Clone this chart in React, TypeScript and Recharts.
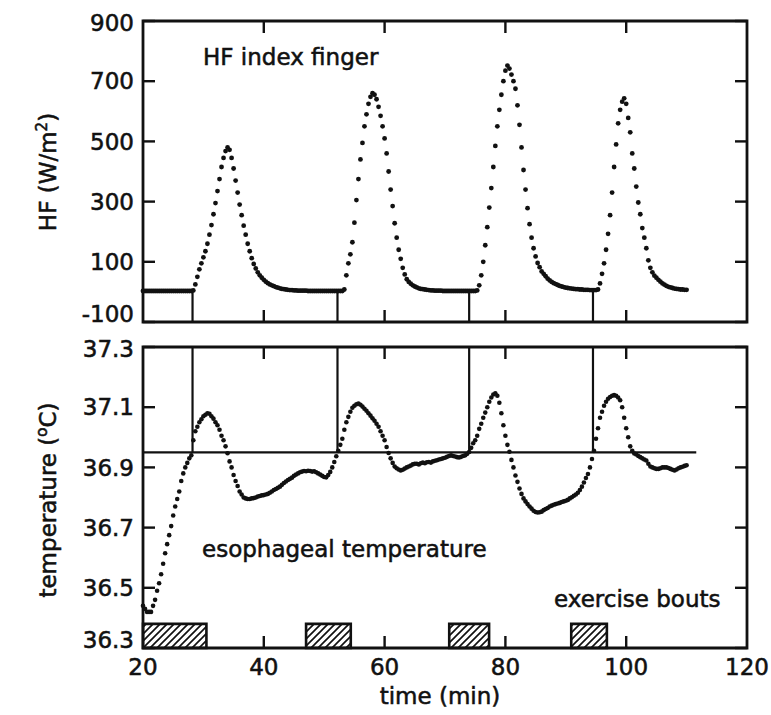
import React from 'react';
import { ComposedChart, Line, XAxis, YAxis, ReferenceLine, ReferenceArea } from 'recharts';

// Sampling grid of the recording (minutes)
const SAMPLE_START_MIN = 20;
const SAMPLE_STEP_MIN = 1 / 3;

// Heat flux, index finger (W/m2), one row per minute (3 samples per minute)
const hfIndexFinger = [
  3, 3, 3, // 20
  3, 3, 3, // 21
  3, 3, 3, // 22
  3, 3, 3, // 23
  3, 3, 3, // 24
  3, 3, 3, // 25
  3, 3, 3, // 26
  3, 3, 3, // 27
  3, 5, 25, // 28
  50, 75, 95, // 29
  115, 135, 160, // 30
  190, 222, 258, // 31
  295, 335, 375, // 32
  415, 445, 468, // 33
  480, 472, 445, // 34
  410, 370, 330, // 35
  290, 255, 220, // 36
  190, 160, 135, // 37
  112, 93, 78, // 38
  65, 55, 47, // 39
  40, 34, 29, // 40
  25, 22, 19, // 41
  16, 14, 12, // 42
  10, 9, 8, // 43
  7, 6, 6, // 44
  5, 5, 4, // 45
  4, 4, 4, // 46
  4, 3, 3, // 47
  3, 3, 3, // 48
  3, 3, 3, // 49
  3, 3, 3, // 50
  3, 3, 3, // 51
  3, 3, 3, // 52
  3, 8, 55, // 53
  95, 125, 165, // 54
  230, 305, 375, // 55
  440, 495, 550, // 56
  590, 625, 648, // 57
  660, 655, 640, // 58
  615, 585, 550, // 59
  510, 460, 400, // 60
  340, 285, 228, // 61
  180, 140, 110, // 62
  80, 58, 42, // 63
  33, 27, 22, // 64
  18, 15, 12, // 65
  10, 9, 8, // 66
  7, 6, 5, // 67
  5, 4, 4, // 68
  4, 4, 3, // 69
  3, 3, 3, // 70
  3, 3, 3, // 71
  3, 3, 3, // 72
  3, 3, 3, // 73
  3, 3, 3, // 74
  3, 5, 22, // 75
  55, 100, 155, // 76
  215, 280, 345, // 77
  415, 485, 550, // 78
  605, 655, 700, // 79
  735, 752, 742, // 80
  722, 700, 675, // 81
  620, 555, 480, // 82
  405, 340, 278, // 83
  225, 180, 145, // 84
  118, 96, 82, // 85
  68, 60, 52, // 86
  44, 38, 33, // 87
  29, 26, 23, // 88
  20, 18, 16, // 89
  14, 13, 12, // 90
  11, 10, 9, // 91
  9, 8, 8, // 92
  7, 7, 7, // 93
  6, 6, 6, // 94
  6, 8, 28, // 95
  60, 95, 140, // 96
  193, 255, 330, // 97
  415, 490, 560, // 98
  605, 632, 643, // 99
  625, 578, 530, // 100
  460, 410, 350, // 101
  297, 258, 212, // 102
  180, 145, 105, // 103
  80, 65, 54, // 104
  47, 40, 34, // 105
  28, 24, 20, // 106
  17, 15, 13, // 107
  11, 10, 9, // 108
  8, 8, 7, // 109
  7, // 110
];

// Esophageal temperature (deg C), same sampling grid
const esophagealTemp = [
  36.44, 36.43, 36.42, // 20
  36.42, 36.42, 36.44, // 21
  36.46, 36.49, 36.515, // 22
  36.545, 36.58, 36.615, // 23
  36.645, 36.675, 36.705, // 24
  36.74, 36.77, 36.795, // 25
  36.82, 36.855, 36.88, // 26
  36.9, 36.915, 36.93, // 27
  36.94, 36.99, 37.02, // 28
  37.035, 37.05, 37.06, // 29
  37.07, 37.075, 37.08, // 30
  37.078, 37.07, 37.062, // 31
  37.05, 37.04, 37.025, // 32
  37.005, 36.99, 36.97, // 33
  36.947, 36.92, 36.9, // 34
  36.875, 36.855, 36.838, // 35
  36.82, 36.81, 36.8, // 36
  36.797, 36.795, 36.795, // 37
  36.797, 36.798, 36.8, // 38
  36.803, 36.805, 36.807, // 39
  36.808, 36.81, 36.812, // 40
  36.816, 36.82, 36.825, // 41
  36.828, 36.832, 36.836, // 42
  36.842, 36.848, 36.853, // 43
  36.858, 36.862, 36.866, // 44
  36.872, 36.876, 36.88, // 45
  36.884, 36.886, 36.888, // 46
  36.887, 36.889, 36.888, // 47
  36.886, 36.887, 36.884, // 48
  36.88, 36.876, 36.872, // 49
  36.868, 36.867, 36.875, // 50
  36.885, 36.9, 36.918, // 51
  36.937, 36.955, 36.975, // 52
  36.995, 37.025, 37.05, // 53
  37.068, 37.085, 37.098, // 54
  37.105, 37.11, 37.112, // 55
  37.108, 37.102, 37.095, // 56
  37.088, 37.08, 37.072, // 57
  37.063, 37.055, 37.045, // 58
  37.035, 37.02, 37.005, // 59
  36.99, 36.968, 36.948, // 60
  36.93, 36.915, 36.903, // 61
  36.897, 36.893, 36.89, // 62
  36.892, 36.896, 36.9, // 63
  36.903, 36.906, 36.91, // 64
  36.912, 36.912, 36.91, // 65
  36.914, 36.916, 36.914, // 66
  36.917, 36.918, 36.916, // 67
  36.92, 36.922, 36.924, // 68
  36.926, 36.928, 36.93, // 69
  36.932, 36.935, 36.938, // 70
  36.94, 36.938, 36.936, // 71
  36.934, 36.933, 36.935, // 72
  36.938, 36.94, 36.945, // 73
  36.951, 36.965, 36.98, // 74
  36.99, 37.005, 37.028, // 75
  37.045, 37.065, 37.082, // 76
  37.1, 37.118, 37.132, // 77
  37.142, 37.146, 37.138, // 78
  37.115, 37.08, 37.04, // 79
  37.005, 36.975, 36.952, // 80
  36.925, 36.9, 36.873, // 81
  36.852, 36.83, 36.812, // 82
  36.797, 36.787, 36.778, // 83
  36.77, 36.763, 36.756, // 84
  36.752, 36.75, 36.751, // 85
  36.753, 36.758, 36.762, // 86
  36.765, 36.77, 36.773, // 87
  36.776, 36.778, 36.78, // 88
  36.782, 36.785, 36.787, // 89
  36.789, 36.792, 36.797, // 90
  36.801, 36.806, 36.81, // 91
  36.816, 36.825, 36.836, // 92
  36.85, 36.865, 36.878, // 93
  36.9, 36.928, 36.955, // 94
  36.995, 37.03, 37.065, // 95
  37.085, 37.105, 37.118, // 96
  37.128, 37.134, 37.138, // 97
  37.14, 37.138, 37.132, // 98
  37.123, 37.1, 37.065, // 99
  37.03, 37.0, 36.97, // 100
  36.955, 36.946, 36.943, // 101
  36.938, 36.934, 36.93, // 102
  36.926, 36.923, 36.912, // 103
  36.903, 36.9, 36.897, // 104
  36.895, 36.895, 36.897, // 105
  36.9, 36.9, 36.9, // 106
  36.898, 36.895, 36.892, // 107
  36.89, 36.893, 36.897, // 108
  36.9, 36.902, 36.905, // 109
  36.907, // 110
];

const timeTicks = [20, 40, 60, 80, 100, 120];
const hfTicks = [-100, 100, 300, 500, 700, 900];
const tempTicks = [36.3, 36.5, 36.7, 36.9, 37.1, 37.3];

// onset of finger heat-flux rise (vertical markers)
const sweatOnsetTimes = [28.2, 52.2, 74.0, 94.5];
const hfBaselineLevel = 3;
const tempThreshold = 36.95;
const thresholdEndTime = 111.6;

// exercise bouts (start, end in minutes)
const boutStarts = [20, 47, 70.7, 90.9];
const boutEnds = [30.5, 54.4, 77.3, 96.8];
const boutTop = 36.38;

const data = hfIndexFinger.map((hf, i) => ({
  t: SAMPLE_START_MIN + i * SAMPLE_STEP_MIN,
  hf,
  temp: esophagealTemp[i],
}));

const INK = '#111';
const FONT = '"DejaVu Sans", Verdana, sans-serif';
const FS = 23;
const PLOT_W = 604;
const PLOT_H = 301;
const TICK = 12;
const TEXT_STROKE = 0.55;

function makeYTick(fmt: (v: number) => string, minV: number, maxV: number) {
  return (props: any) => {
    const { x, y, payload } = props;
    const v = payload.value as number;
    const dy = Math.abs(v - minV) < 1e-9 ? -8 : Math.abs(v - maxV) < 1e-9 ? 2 : 0;
    return (
      <g>
        <line x1={x} y1={y} x2={x + TICK} y2={y} stroke={INK} strokeWidth={2.4} />
        <line x1={x + PLOT_W} y1={y} x2={x + PLOT_W - TICK} y2={y} stroke={INK} strokeWidth={2.4} />
        <text
          x={x - 9}
          y={y + dy}
          dy="0.36em"
          textAnchor="end"
          fontFamily={FONT}
          fontSize={FS}
          fill={INK}
          stroke={INK}
          strokeWidth={TEXT_STROKE}
        >
          {fmt(v)}
        </text>
      </g>
    );
  };
}

function makeXTick(showLabels: boolean) {
  return (props: any) => {
    const { x, y, payload } = props;
    const v = payload.value as number;
    const edge = v === timeTicks[0] || v === timeTicks[timeTicks.length - 1];
    return (
      <g>
        {!edge && <line x1={x} y1={y} x2={x} y2={y - TICK} stroke={INK} strokeWidth={2.4} />}
        {!edge && <line x1={x} y1={y - PLOT_H} x2={x} y2={y - PLOT_H + TICK} stroke={INK} strokeWidth={2.4} />}
        {showLabels && (
          <text
            x={x}
            y={y + 27}
            textAnchor="middle"
            fontFamily={FONT}
            fontSize={FS}
            fill={INK}
            stroke={INK}
            strokeWidth={TEXT_STROKE}
          >
            {v}
          </text>
        )}
      </g>
    );
  };
}

function TopPanel() {
  return (
    <ComposedChart width={771} height={335} data={data} margin={{ top: 21, right: 24, bottom: 0, left: 0 }}>
      <XAxis
        dataKey="t"
        type="number"
        domain={[20, 120]}
        ticks={timeTicks}
        interval={0}
        height={13}
        axisLine={false}
        tickLine={false}
        tickSize={0}
        tickMargin={0}
        tick={makeXTick(false)}
      />
      <YAxis
        type="number"
        domain={[-100, 900]}
        ticks={hfTicks}
        interval={0}
        width={143}
        axisLine={false}
        tickLine={false}
        tickSize={0}
        tickMargin={0}
        tick={makeYTick((v) => String(v), -100, 900)}
      />
      <ReferenceArea x1={20} x2={120} y1={-100} y2={900} fill="none" stroke={INK} strokeWidth={2.8} />
      {sweatOnsetTimes.map((t, i) => (
        <ReferenceLine
          key={'hv' + i}
          segment={[{ x: t, y: -100 }, { x: t, y: hfBaselineLevel }]}
          stroke={INK}
          strokeWidth={2.2}
        />
      ))}
      <Line
        dataKey="hf"
        stroke="none"
        dot={{ r: 2.4, fill: INK, stroke: 'none' }}
        activeDot={false}
        isAnimationActive={false}
      />
    </ComposedChart>
  );
}

function BottomPanel() {
  return (
    <ComposedChart width={771} height={393} data={data} margin={{ top: 25, right: 24, bottom: 0, left: 0 }}>
      <XAxis
        dataKey="t"
        type="number"
        domain={[20, 120]}
        ticks={timeTicks}
        interval={0}
        height={67}
        axisLine={false}
        tickLine={false}
        tickSize={0}
        tickMargin={0}
        tick={makeXTick(true)}
      />
      <YAxis
        type="number"
        domain={[36.3, 37.3]}
        ticks={tempTicks}
        interval={0}
        width={143}
        axisLine={false}
        tickLine={false}
        tickSize={0}
        tickMargin={0}
        tick={makeYTick((v) => v.toFixed(1), 36.3, 37.3)}
      />
      {boutStarts.map((s, i) => (
        <ReferenceArea
          key={'b' + i}
          x1={s}
          x2={boutEnds[i]}
          y1={36.3}
          y2={boutTop}
          fill="url(#hatch)"
          fillOpacity={1}
          stroke={INK}
          strokeWidth={2.6}
        />
      ))}
      <ReferenceArea x1={20} x2={120} y1={36.3} y2={37.3} fill="none" stroke={INK} strokeWidth={2.8} />
      {sweatOnsetTimes.map((t, i) => (
        <ReferenceLine
          key={'tv' + i}
          segment={[{ x: t, y: 37.3 }, { x: t, y: tempThreshold }]}
          stroke={INK}
          strokeWidth={2.2}
        />
      ))}
      <ReferenceLine
        segment={[{ x: 20, y: tempThreshold }, { x: thresholdEndTime, y: tempThreshold }]}
        stroke={INK}
        strokeWidth={2.4}
      />
      <Line
        dataKey="temp"
        stroke="none"
        dot={{ r: 2.3, fill: INK, stroke: 'none' }}
        activeDot={false}
        isAnimationActive={false}
      />
    </ComposedChart>
  );
}

export default function App() {
  const txt = { fontFamily: FONT, fontSize: FS, fill: INK, stroke: INK, strokeWidth: TEXT_STROKE } as const;
  return (
    <div style={{ position: 'absolute', left: 0, top: 0, width: 771, height: 715, background: '#fff' }}>
      <div style={{ position: 'absolute', left: 0, top: 0 }}>
        <TopPanel />
      </div>
      <div style={{ position: 'absolute', left: 0, top: 322 }}>
        <BottomPanel />
      </div>
      <svg
        width={771}
        height={715}
        style={{ position: 'absolute', left: 0, top: 0, pointerEvents: 'none' }}
      >
        <defs>
          <pattern id="hatch" patternUnits="userSpaceOnUse" width="7" height="7">
            <rect width="7" height="7" fill="#fff" />
            <path d="M-1,1 L1,-1 M0,7 L7,0 M6,8 L8,6" stroke={INK} strokeWidth="1.7" />
          </pattern>
        </defs>
        <text x={203} y={65} {...txt}>HF index finger</text>
        <text x={202} y={557} {...txt}>esophageal temperature</text>
        <text x={554} y={607} {...txt}>exercise bouts</text>
        <text x={440} y={704} textAnchor="middle" {...txt}>time (min)</text>
        <text x={56} y={172} textAnchor="middle" transform="rotate(-90 56 172)" {...txt}>
          HF (W/m<tspan fontSize={15} dy={-9}>2</tspan>
          <tspan dy={9}>)</tspan>
        </text>
        <text x={56} y={500} textAnchor="middle" transform="rotate(-90 56 500)" {...txt}>
          temperature (<tspan fontSize={15} dy={-9}>o</tspan>
          <tspan dy={9}>C)</tspan>
        </text>
      </svg>
    </div>
  );
}
